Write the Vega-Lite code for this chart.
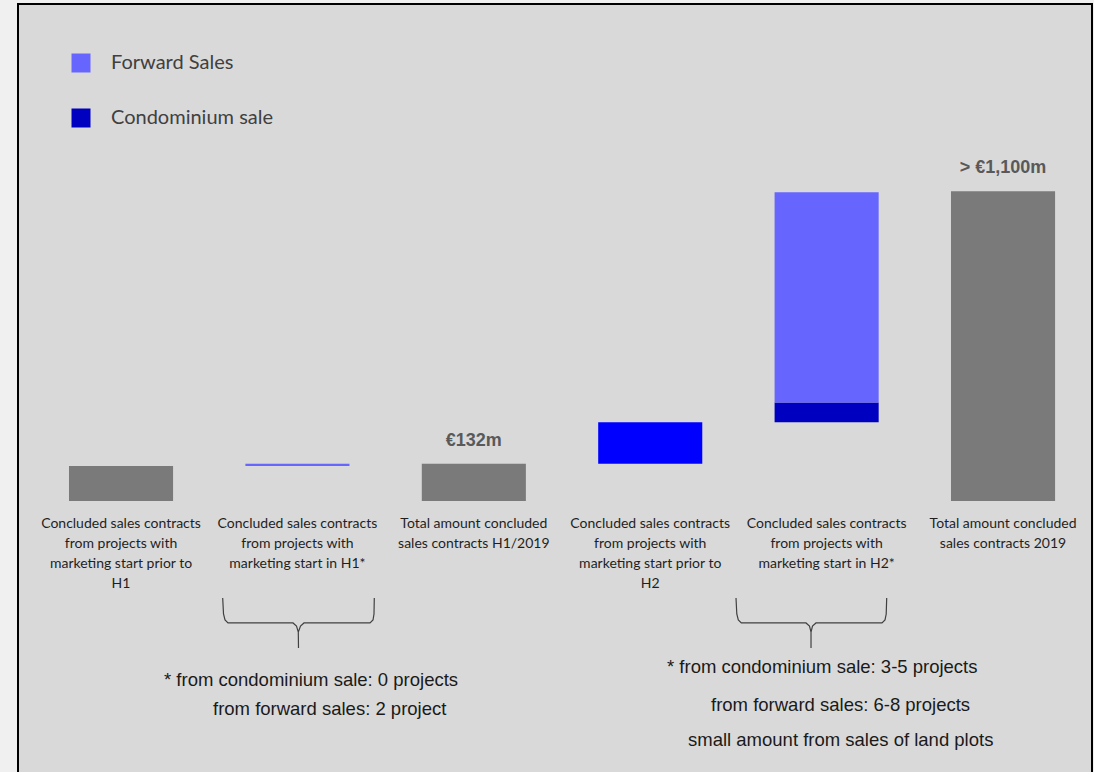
{
  "$schema": "https://vega.github.io/schema/vega-lite/v6.json",
  "width": 1094,
  "height": 772,
  "autosize": {"type": "fit", "contains": "padding"},
  "padding": {"left": 18, "top": 4, "right": 2, "bottom": -4},
  "background": "#f0f0f0",
  "config": {
    "view": {"fill": "#d9d9d9", "stroke": "#000000", "strokeWidth": 2},
    "axis": {"domain": false}
  },
  "datasets": {
    "bars": [
      {"cat": "Prior H1", "type": "Total", "start": 0, "end": 124},
      {"cat": "New H1", "type": "Forward Sales", "start": 124, "end": 132},
      {"cat": "Total H1", "type": "Total", "start": 0, "end": 132, "label": "€132m"},
      {"cat": "Prior H2", "type": "Prior projects", "start": 132, "end": 280},
      {"cat": "New H2", "type": "Condominium sale", "start": 280, "end": 350},
      {"cat": "New H2", "type": "Forward Sales", "start": 350, "end": 1097},
      {"cat": "Total 2019", "type": "Total", "start": 0, "end": 1100, "label": "> €1,100m"}
    ],
    "categories": [
      {"cat": "Prior H1", "text": "Concluded sales contracts\nfrom projects with\nmarketing start prior to\nH1"},
      {"cat": "New H1", "text": "Concluded sales contracts\nfrom projects with\nmarketing start in H1*"},
      {"cat": "Total H1", "text": "Total amount concluded\nsales contracts H1/2019"},
      {"cat": "Prior H2", "text": "Concluded sales contracts\nfrom projects with\nmarketing start prior to\nH2"},
      {"cat": "New H2", "text": "Concluded sales contracts\nfrom projects with\nmarketing start in H2*"},
      {"cat": "Total 2019", "text": "Total amount concluded\nsales contracts 2019"}
    ],
    "braces": [
      {"brace": "H1", "order": 1, "xu": 0.5765, "yv": -344.5},
      {"brace": "H1", "order": 2, "xu": 0.5811, "yv": -401.4},
      {"brace": "H1", "order": 3, "xu": 0.5896, "yv": -422.7},
      {"brace": "H1", "order": 4, "xu": 0.6066, "yv": -433.3},
      {"brace": "H1", "order": 5, "xu": 0.9751, "yv": -433.3},
      {"brace": "H1", "order": 6, "xu": 0.9949, "yv": -444.0},
      {"brace": "H1", "order": 7, "xu": 1.0051, "yv": -465.3},
      {"brace": "H1", "order": 8, "xu": 1.0062, "yv": -522.1},
      {"brace": "H1", "order": 9, "xu": 1.0051, "yv": -465.3},
      {"brace": "H1", "order": 10, "xu": 1.0176, "yv": -444.0},
      {"brace": "H1", "order": 11, "xu": 1.0374, "yv": -433.3},
      {"brace": "H1", "order": 12, "xu": 1.4116, "yv": -433.3},
      {"brace": "H1", "order": 13, "xu": 1.4286, "yv": -422.7},
      {"brace": "H1", "order": 14, "xu": 1.4342, "yv": -401.4},
      {"brace": "H1", "order": 15, "xu": 1.4359, "yv": -344.5},
      {"brace": "H2", "order": 1, "xu": 3.4864, "yv": -344.5},
      {"brace": "H2", "order": 2, "xu": 3.4909, "yv": -401.4},
      {"brace": "H2", "order": 3, "xu": 3.4994, "yv": -422.7},
      {"brace": "H2", "order": 4, "xu": 3.5164, "yv": -433.3},
      {"brace": "H2", "order": 5, "xu": 3.8832, "yv": -433.3},
      {"brace": "H2", "order": 6, "xu": 3.9030, "yv": -444.0},
      {"brace": "H2", "order": 7, "xu": 3.9116, "yv": -465.3},
      {"brace": "H2", "order": 8, "xu": 3.9116, "yv": -522.1},
      {"brace": "H2", "order": 9, "xu": 3.9116, "yv": -465.3},
      {"brace": "H2", "order": 10, "xu": 3.9200, "yv": -444.0},
      {"brace": "H2", "order": 11, "xu": 3.9399, "yv": -433.3},
      {"brace": "H2", "order": 12, "xu": 4.3141, "yv": -433.3},
      {"brace": "H2", "order": 13, "xu": 4.3311, "yv": -422.7},
      {"brace": "H2", "order": 14, "xu": 4.3379, "yv": -401.4},
      {"brace": "H2", "order": 15, "xu": 4.3407, "yv": -344.5}
    ],
    "notes": [
      {"text": "* from condominium sale: 0 projects", "xu": 0.2438, "yv": -657.1},
      {"text": "from forward sales: 2 project", "xu": 0.5215, "yv": -760.1},
      {"text": "* from condominium sale: 3-5 projects", "xu": 3.0952, "yv": -611.0},
      {"text": "from forward sales: 6-8 projects", "xu": 3.3447, "yv": -745.9},
      {"text": "small amount from sales of land plots", "xu": 3.2143, "yv": -870.2}
    ]
  },
  "layer": [
    {
      "encoding": {
        "x": {
          "field": "cat",
          "type": "nominal",
          "sort": null,
          "axis": null,
          "scale": {
            "type": "band",
            "domain": ["Prior H1", "New H1", "Total H1", "Prior H2", "New H2", "Total 2019"],
            "paddingInner": 0.41,
            "paddingOuter": 0.2492,
            "align": 0.58
          }
        }
      },
      "layer": [
        {
          "data": {"name": "bars"},
          "mark": {"type": "bar"},
          "encoding": {
            "y": {
              "field": "start",
              "type": "quantitative",
              "axis": null,
              "scale": {"domain": [-976.9, 1765.5], "nice": false, "zero": false}
            },
            "y2": {"field": "end"},
            "color": {
              "field": "type",
              "type": "nominal",
              "scale": {
                "domain": ["Forward Sales", "Condominium sale", "Prior projects", "Total"],
                "range": ["#6666ff", "#0000c0", "#0000ff", "#7a7a7a"]
              },
              "legend": {
                "orient": "none",
                "legendX": 53,
                "legendY": 49,
                "title": null,
                "values": ["Forward Sales", "Condominium sale"],
                "symbolType": "square",
                "symbolSize": 361,
                "symbolStrokeWidth": 0,
                "labelFont": "Lato",
                "labelFontSize": 20,
                "labelColor": "#404040",
                "labelOffset": 20,
                "labelLimit": 400,
                "rowPadding": 35,
                "padding": 0
              }
            }
          }
        },
        {
          "data": {"name": "bars"},
          "transform": [{"filter": "isValid(datum.label)"}],
          "mark": {
            "type": "text",
            "font": "Liberation Sans",
            "fontWeight": "bold",
            "fontSize": 18,
            "color": "#595959",
            "baseline": "alphabetic",
            "dy": -18
          },
          "encoding": {
            "y": {
              "field": "end",
              "type": "quantitative",
              "axis": null,
              "scale": {"domain": [-976.9, 1765.5], "nice": false, "zero": false}
            },
            "text": {"field": "label"}
          }
        },
        {
          "data": {"name": "categories"},
          "mark": {
            "type": "text",
            "font": "Lato",
            "fontSize": 14,
            "color": "#1f1f1f",
            "baseline": "alphabetic",
            "lineBreak": "\n",
            "lineHeight": 20,
            "dy": 27
          },
          "encoding": {
            "y": {
              "datum": 0,
              "type": "quantitative",
              "axis": null,
              "scale": {"domain": [-976.9, 1765.5], "nice": false, "zero": false}
            },
            "text": {"field": "text"}
          }
        }
      ]
    },
    {
      "encoding": {
        "x": {
          "field": "xu",
          "type": "quantitative",
          "axis": null,
          "scale": {"domain": [-0.5839, 5.5045], "nice": false, "zero": false}
        },
        "y": {
          "field": "yv",
          "type": "quantitative",
          "axis": null,
          "scale": {"domain": [-976.9, 1765.5], "nice": false, "zero": false}
        }
      },
      "layer": [
        {
          "data": {"name": "braces"},
          "mark": {"type": "line", "color": "#404040", "strokeWidth": 1.2, "interpolate": "linear"},
          "encoding": {
            "detail": {"field": "brace", "type": "nominal"},
            "order": {"field": "order", "type": "quantitative"}
          }
        },
        {
          "data": {"name": "notes"},
          "mark": {
            "type": "text",
            "font": "Liberation Sans",
            "fontSize": 18.5,
            "color": "#1a1a1a",
            "align": "left",
            "baseline": "alphabetic"
          },
          "encoding": {
            "text": {"field": "text"}
          }
        }
      ]
    }
  ],
  "resolve": {"scale": {"x": "independent"}}
}
